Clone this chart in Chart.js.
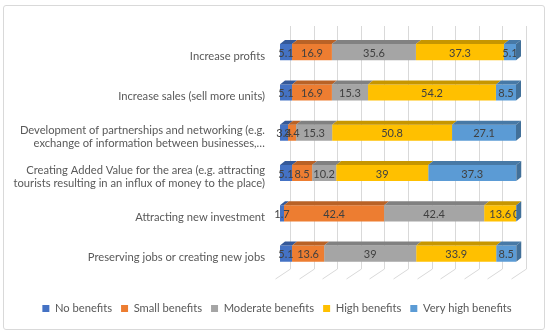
<!DOCTYPE html>
<html lang="en">
<head>
    <meta charset="UTF-8">
    <title>Benefits of the initiative</title>
    <script src="https://cdn.jsdelivr.net/npm/chart.js"></script>
    <style>
        body { margin: 0; background: #fff; }
        #wrap { position: relative; width: 550px; height: 334px; }
        #frame {
            position: absolute; left: 3px; top: 5px; width: 540px; height: 323px;
            border: 1px solid #d9d9d9; border-radius: 3px; pointer-events: none;
        }
    </style>
</head>
<body>
    <div id="wrap">
        <canvas id="benefitsChart" width="550" height="334"></canvas>
        <div id="frame"></div>
    </div>

    <script>
        // Chart data
        const categories = [
            'Increase profits',
            'Increase sales (sell more units)',
            ['Development of partnerships and networking (e.g.', 'exchange of information between businesses,\u2026'],
            ['Creating Added Value for the area (e.g. attracting', 'tourists resulting in an influx of money to the place)'],
            'Attracting new investment',
            'Preserving jobs or creating new jobs'
        ];
        const seriesNames = ['No benefits', 'Small benefits', 'Moderate benefits', 'High benefits', 'Very high benefits'];
        const noBenefits       = [5.1, 5.1, 3.4, 5.1, 1.7, 5.1];
        const smallBenefits    = [16.9, 16.9, 3.4, 8.5, 42.4, 13.6];
        const moderateBenefits = [35.6, 15.3, 15.3, 10.2, 42.4, 39];
        const highBenefits     = [37.3, 54.2, 50.8, 39, 13.6, 33.9];
        const veryHighBenefits = [5.1, 8.5, 27.1, 37.3, 0, 8.5];
        const gridValues = [0, 10, 20, 30, 40, 50, 60, 70, 80, 90, 100];

        const colors = ['#4472C4', '#ED7D31', '#A5A5A5', '#FFC000', '#5B9BD5'];
        const allSeries = [noBenefits, smallBenefits, moderateBenefits, highBenefits, veryHighBenefits];

        // darken a hex colour for the 3d faces
        function shade(hex, f) {
            const n = parseInt(hex.slice(1), 16);
            const r = Math.round(((n >> 16) & 255) * f);
            const g = Math.round(((n >> 8) & 255) * f);
            const b = Math.round((n & 255) * f);
            return `rgb(${r},${g},${b})`;
        }

        const depthX = 5, depthY = 4;

        // fake 3d look: back wall grid, floor, top + side faces and value labels
        const bars3d = {
            id: 'bars3d',
            beforeDatasetsDraw(chart) {
                const ctx = chart.ctx;
                const x = chart.scales.x;
                ctx.save();
                ctx.strokeStyle = '#d9d9d9';
                ctx.lineWidth = 1;
                gridValues.forEach(v => {
                    const px = Math.round(x.getPixelForValue(v)) + 0.5;
                    ctx.beginPath();
                    ctx.moveTo(px + 10, 26);
                    ctx.lineTo(px + 10, 269);
                    ctx.lineTo(px - 5, 279);
                    ctx.stroke();
                });
                ctx.restore();
            },
            afterDatasetsDraw(chart) {
                const ctx = chart.ctx;
                ctx.save();
                // top faces
                chart.data.datasets.forEach((ds, i) => {
                    chart.getDatasetMeta(i).data.forEach(bar => {
                        const top = bar.y - bar.height / 2;
                        ctx.fillStyle = shade(colors[i], 0.78);
                        ctx.beginPath();
                        ctx.moveTo(bar.base, top);
                        ctx.lineTo(bar.base + depthX, top - depthY);
                        ctx.lineTo(bar.x + depthX, top - depthY);
                        ctx.lineTo(bar.x, top);
                        ctx.closePath();
                        ctx.fill();
                    });
                });
                // value labels
                ctx.font = '11px Lato';
                ctx.fillStyle = '#404040';
                ctx.textAlign = 'center';
                ctx.textBaseline = 'middle';
                chart.data.datasets.forEach((ds, i) => {
                    chart.getDatasetMeta(i).data.forEach((bar, j) => {
                        ctx.fillText(String(ds.data[j]), (bar.base + bar.x) / 2, bar.y + 1);
                    });
                });
                // right side face of each bar
                const last = chart.data.datasets.length - 1;
                chart.getDatasetMeta(last).data.forEach(bar => {
                    const top = bar.y - bar.height / 2;
                    const bottom = bar.y + bar.height / 2;
                    ctx.fillStyle = shade(colors[last], 0.72);
                    ctx.beginPath();
                    ctx.moveTo(bar.x, top);
                    ctx.lineTo(bar.x + depthX, top - depthY);
                    ctx.lineTo(bar.x + depthX, bottom - depthY);
                    ctx.lineTo(bar.x, bottom);
                    ctx.closePath();
                    ctx.fill();
                });
                ctx.restore();
            }
        };

        Chart.defaults.font.family = 'Lato';
        Chart.defaults.color = '#595959';

        const ctx = document.getElementById('benefitsChart').getContext('2d');
        const benefitsChart = new Chart(ctx, {
            type: 'bar',
            data: {
                labels: categories,
                datasets: allSeries.map((values, i) => ({
                    label: seriesNames[i],
                    data: values,
                    backgroundColor: colors[i],
                    borderWidth: 0,
                    barPercentage: 0.4,
                    categoryPercentage: 1
                }))
            },
            options: {
                indexAxis: 'y',
                responsive: false,
                animation: false,
                layout: { padding: { top: 32, right: 0, bottom: 10, left: 4 } },
                scales: {
                    x: {
                        stacked: true,
                        min: 0,
                        max: 100,
                        grid: { display: false },
                        border: { display: false },
                        ticks: { display: false },
                        afterFit: scale => { scale.height = 20; }
                    },
                    y: {
                        stacked: true,
                        grid: { display: false, drawTicks: false },
                        border: { display: false },
                        ticks: { font: { size: 11.2 }, padding: 15, labelOffset: 4, color: '#595959' },
                        afterFit: scale => { scale.width = 276; }
                    },
                    // empty spacer on the right so the legend stays centred
                    yRight: {
                        axis: 'y',
                        type: 'category',
                        position: 'right',
                        grid: { display: false, drawTicks: false },
                        border: { display: false },
                        ticks: { display: false },
                        afterFit: scale => { scale.width = 34; }
                    }
                },
                plugins: {
                    legend: {
                        position: 'bottom',
                        labels: { boxWidth: 7, boxHeight: 7, padding: 9, font: { size: 11.2 }, color: '#595959' }
                    },
                    tooltip: { enabled: false }
                }
            },
            plugins: [bars3d]
        });
    </script>
</body>
</html>
